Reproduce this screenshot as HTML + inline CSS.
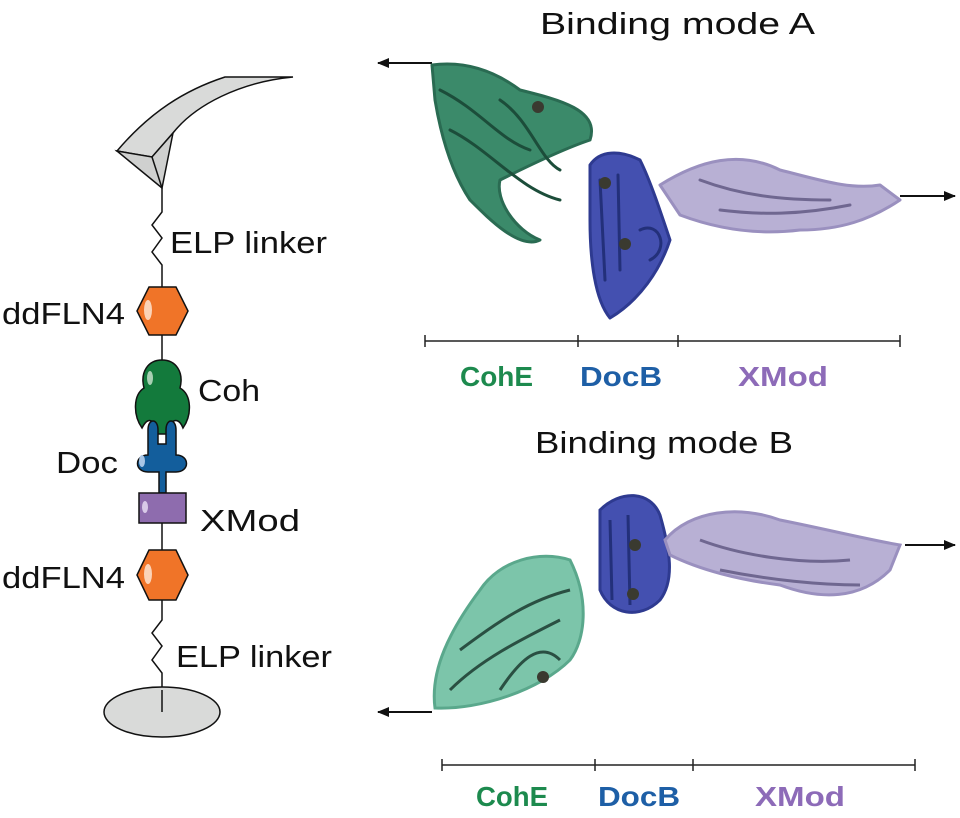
<!DOCTYPE html>
<html><head><meta charset="utf-8"><style>
body{margin:0;background:#fff}
svg{display:block}
text{font-family:"Liberation Sans",sans-serif}
</style></head><body>
<svg width="960" height="818" viewBox="0 0 960 818" xmlns="http://www.w3.org/2000/svg">
<defs>
<marker id="ar" markerWidth="12" markerHeight="10" refX="11" refY="5" orient="auto" markerUnits="userSpaceOnUse"><path d="M0,0 L12,5 L0,10 z" fill="#111"/></marker>
</defs>
<!-- cantilever -->
<path d="M117,151 C150,112 185,90 225,77 L293,77 C240,82 195,105 173,133 L152,157 Z" fill="#d9dad9" stroke="#111" stroke-width="1.5"/>
<path d="M117,151 L162,188 L173,133 L152,157 Z" fill="#cfd0cf" stroke="#111" stroke-width="1.5"/>
<path d="M152,157 L162,188" fill="none" stroke="#111" stroke-width="1.5"/>
<path d="M162,188 L162,212 L152,225 L162,238 L152,252 L162,265 L162,287" fill="none" stroke="#111" stroke-width="1.5"/>
<!-- hex 1 -->
<polygon points="149,287 176,287 188,311 176,335 149,335 137,311" fill="#f07428" stroke="#111" stroke-width="1.5"/>
<ellipse cx="148" cy="310" rx="4" ry="10" fill="#fbd3b8"/>
<line x1="162" y1="335" x2="162" y2="360" stroke="#111" stroke-width="1.5"/>
<!-- Coh -->
<path d="M162,360 C148,360 140,372 144,388 C133,395 133,415 142,428 C146,420 150,418 155,424 L158,434 L166,434 L170,424 C175,418 180,420 183,428 C192,415 192,395 180,388 C184,372 176,360 162,360 Z" fill="#137a3c" stroke="#111" stroke-width="1.5"/>
<ellipse cx="150" cy="378" rx="3" ry="7" fill="#a8d0b3"/>
<!-- Doc -->
<path d="M148,455 L148,430 C148,418 158,418 158,430 L158,444 L166,444 L166,430 C166,418 176,418 176,430 L176,455 C190,455 190,472 176,472 L166,472 L166,493 L159,493 L159,472 L148,472 C134,472 134,455 148,455 Z" fill="#135e9c" stroke="#111" stroke-width="1.5"/>
<ellipse cx="142" cy="461" rx="3" ry="6" fill="#a9c6e6"/>
<!-- XMod -->
<rect x="139" y="493" width="47" height="30" fill="#8e6cae" stroke="#111" stroke-width="1.5"/>
<ellipse cx="145" cy="507" rx="3" ry="6" fill="#d8c9e8"/>
<line x1="162" y1="523" x2="162" y2="550" stroke="#111" stroke-width="1.5"/>
<!-- hex 2 -->
<polygon points="149,550 176,550 188,575 176,600 149,600 137,575" fill="#f07428" stroke="#111" stroke-width="1.5"/>
<ellipse cx="148" cy="574" rx="4" ry="10" fill="#fbd3b8"/>
<path d="M162,600 L162,620 L152,633 L162,646 L152,660 L162,673 L162,712" fill="none" stroke="#111" stroke-width="1.5"/>
<ellipse cx="162" cy="712" rx="58" ry="25" fill="#d9dad9" stroke="#111" stroke-width="1.5"/>
<line x1="162" y1="690" x2="162" y2="712" stroke="#111" stroke-width="1.5"/>
<g font-size="31" fill="#111">
<text x="170" y="253" textLength="157" lengthAdjust="spacingAndGlyphs">ELP linker</text>
<text x="2" y="324" textLength="123" lengthAdjust="spacingAndGlyphs">ddFLN4</text>
<text x="198" y="401" textLength="62" lengthAdjust="spacingAndGlyphs">Coh</text>
<text x="56" y="473" textLength="62" lengthAdjust="spacingAndGlyphs">Doc</text>
<text x="200" y="531" textLength="100" lengthAdjust="spacingAndGlyphs">XMod</text>
<text x="2" y="588" textLength="123" lengthAdjust="spacingAndGlyphs">ddFLN4</text>
<text x="176" y="667" textLength="156" lengthAdjust="spacingAndGlyphs">ELP linker</text>
<text x="540" y="34" font-size="31" textLength="275" lengthAdjust="spacingAndGlyphs">Binding mode A</text>
<text x="535" y="453" font-size="31" textLength="258" lengthAdjust="spacingAndGlyphs">Binding mode B</text>
</g>
<!-- Mode A proteins -->
<line x1="432" y1="63" x2="378" y2="63" stroke="#111" stroke-width="2" marker-end="url(#ar)"/>
<g fill="none" stroke-linecap="round" stroke-linejoin="round">
<path d="M432,65 C470,60 500,75 520,90 C560,100 600,110 590,140 C560,150 520,170 500,180 C495,200 515,230 540,240 C520,250 490,220 470,200 C450,170 440,130 435,100 Z" fill="#3b8a6a" stroke="#2a6b52" stroke-width="3"/>
<path d="M440,90 C480,110 500,140 530,150 M450,130 C490,150 520,190 560,200 M500,100 C530,120 540,160 560,170" stroke="#1c4d3a" stroke-width="3"/>
<path d="M590,165 C600,150 620,150 640,160 C650,180 660,210 670,240 C660,270 640,300 610,318 C595,300 590,260 590,220 Z" fill="#4450b0" stroke="#2e3a90" stroke-width="3"/>
<path d="M600,180 L605,280 M618,175 L620,270 M640,230 C660,220 670,250 650,260" stroke="#23307a" stroke-width="3"/>
<path d="M660,185 C700,160 740,150 780,170 C820,180 850,190 880,185 L900,200 C870,220 840,230 800,230 C760,235 720,230 680,215 Z" fill="#b8b0d4" stroke="#9a90bf" stroke-width="3"/>
<path d="M700,180 C740,195 780,200 830,200 M720,210 C760,215 800,215 850,205" stroke="#6f6790" stroke-width="3"/>
</g>
<circle cx="538" cy="107" r="6" fill="#3a3a30"/><circle cx="605" cy="183" r="6" fill="#3a3a30"/><circle cx="625" cy="244" r="6" fill="#3a3a30"/>
<line x1="900" y1="196" x2="955" y2="196" stroke="#111" stroke-width="2" marker-end="url(#ar)"/>
<!-- Mode B proteins -->
<path d="M435,708 C430,670 450,630 480,590 C500,560 540,550 570,560 C590,600 585,640 570,660 C540,690 480,710 435,708 Z" fill="#7cc5aa" stroke="#5aa88c" stroke-width="3"/>
<path d="M450,690 C480,660 520,640 560,620 M460,650 C500,620 530,600 570,590 M500,690 C520,660 540,640 560,660" fill="none" stroke="#2a4f42" stroke-width="3"/>
<circle cx="543" cy="677" r="6" fill="#3a3a30"/>
<path d="M600,510 C620,490 650,490 660,515 C670,550 675,580 660,600 C640,620 610,615 600,590 Z" fill="#4450b0" stroke="#2e3a90" stroke-width="3"/>
<path d="M610,520 L612,600 M628,515 L630,605" stroke="#23307a" stroke-width="3" fill="none"/>
<circle cx="635" cy="545" r="6" fill="#3a3a30"/><circle cx="633" cy="594" r="6" fill="#3a3a30"/>
<path d="M665,540 C690,510 740,505 780,520 C830,530 870,540 900,545 L890,570 C860,600 820,600 780,585 C740,580 700,570 670,555 Z" fill="#b8b0d4" stroke="#9a90bf" stroke-width="3"/>
<path d="M700,540 C740,555 800,565 850,560 M720,570 C770,580 820,585 860,585" fill="none" stroke="#6f6790" stroke-width="3"/>
<line x1="432" y1="712" x2="378" y2="712" stroke="#111" stroke-width="2" marker-end="url(#ar)"/>
<line x1="905" y1="545" x2="955" y2="545" stroke="#111" stroke-width="2" marker-end="url(#ar)"/>
<!-- scale bars -->
<g stroke="#222" stroke-width="1.5" fill="none">
<path d="M425,341 L900,341 M425,335 L425,347 M578,335 L578,347 M678,335 L678,347 M900,335 L900,347"/>
<path d="M442,765 L915,765 M442,759 L442,771 M595,759 L595,771 M693,759 L693,771 M915,759 L915,771"/>
</g>
<g font-size="28" font-weight="bold">
<text x="460" y="386" fill="#1d8a4e" textLength="73" lengthAdjust="spacingAndGlyphs">CohE</text>
<text x="580" y="386" fill="#1e5fa6" textLength="82" lengthAdjust="spacingAndGlyphs">DocB</text>
<text x="738" y="386" fill="#8d6bb8" textLength="90" lengthAdjust="spacingAndGlyphs">XMod</text>
<text x="476" y="806" fill="#1d8a4e" textLength="72" lengthAdjust="spacingAndGlyphs">CohE</text>
<text x="598" y="806" fill="#1e5fa6" textLength="82" lengthAdjust="spacingAndGlyphs">DocB</text>
<text x="755" y="806" fill="#8d6bb8" textLength="90" lengthAdjust="spacingAndGlyphs">XMod</text>
</g>
</svg>
</body></html>
